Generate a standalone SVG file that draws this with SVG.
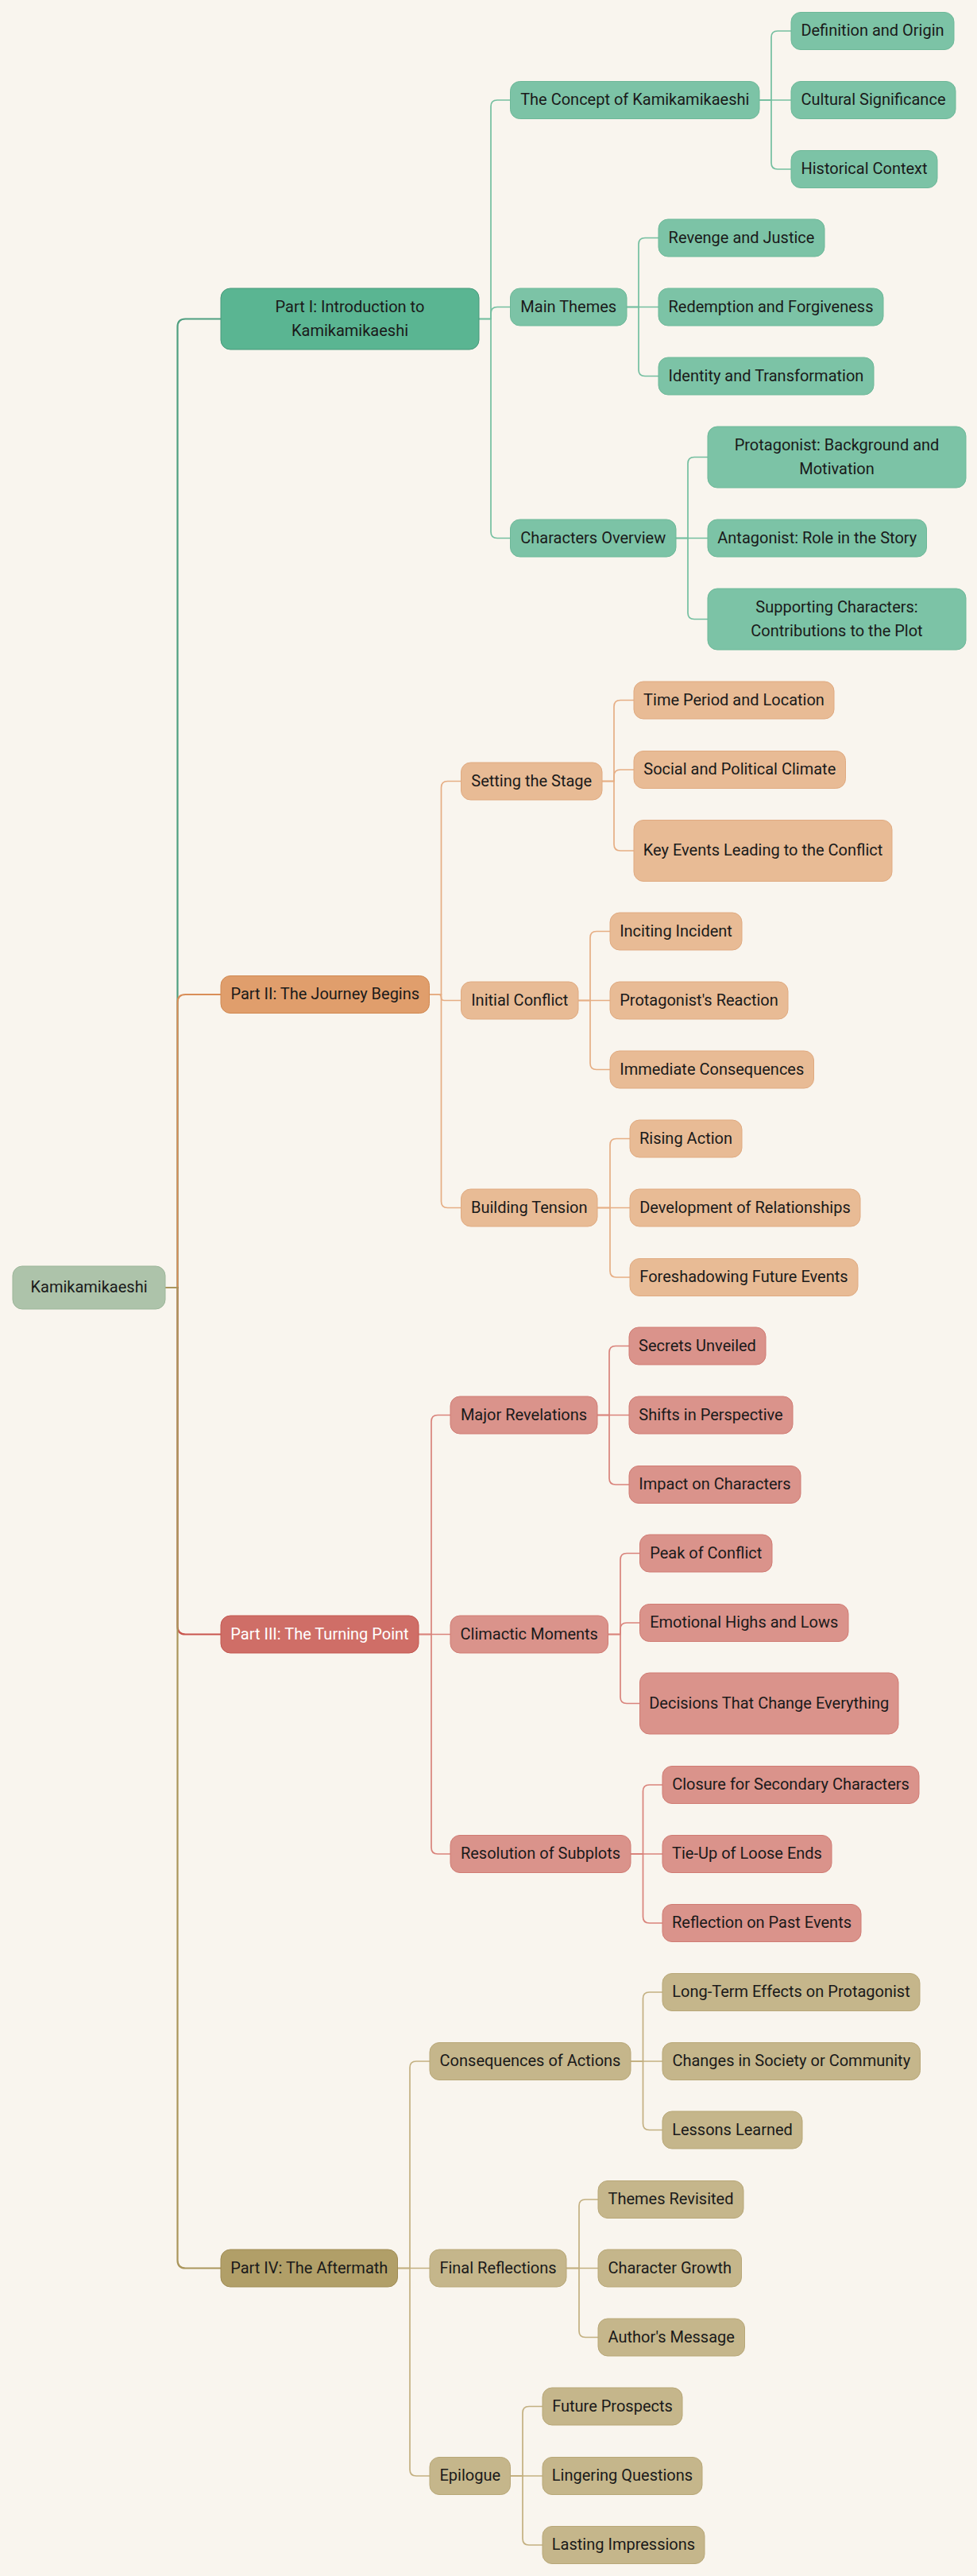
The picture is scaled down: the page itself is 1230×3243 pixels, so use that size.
<svg xmlns="http://www.w3.org/2000/svg" width="1230" height="3243" viewBox="0 0 1230 3243">
<style>
text{font-family:Roboto,"Liberation Sans",Arial,sans-serif;font-size:20px;fill:#1a1a1a;text-anchor:middle}
.c{fill:none;stroke-width:1.7}
.cr{fill:none;stroke-width:2.2}
.root rect{fill:#adc3aa;stroke:#9cb699;stroke-width:1}
.g1 rect{fill:#5ab592;stroke:#47997a;stroke-width:1}
.g2 rect{fill:#7cc3a6;stroke:#6db898;stroke-width:1}
.o1 rect{fill:#e09e6c;stroke:#d08850;stroke-width:1}
.o2 rect{fill:#e8bb95;stroke:#e0aa80;stroke-width:1}
.r1 rect{fill:#cf6e67;stroke:#c2564f;stroke-width:1}
.r1 text{fill:#ffffff}
.r2 rect{fill:#da938b;stroke:#d07b73;stroke-width:1}
.t1 rect{fill:#b19f68;stroke:#9f8b53;stroke-width:1}
.t2 rect{fill:#c5b68b;stroke:#b8a777;stroke-width:1}
.cg1{stroke:#4f9f80}.cg2{stroke:#74bfa0}
.co1{stroke:#d98e58}.co2{stroke:#e6ae84}
.cr1{stroke:#c9554d}.cr2{stroke:#d9837b}
.ct1{stroke:#aa965c}.ct2{stroke:#c3b081}
</style>
<rect x="0" y="0" width="1230" height="3243" fill="#f9f5ee"/>
<g id="connectors">
<path class="cr cg1" d="M208,1621 H223.5 V411.5 Q223.5,401.5 233.5,401.5 H278"/>
<path class="cr co1" d="M208,1621 H223.5 V1262 Q223.5,1252 233.5,1252 H278"/>
<path class="cr cr1" d="M208,1621 H223.5 V2047.5 Q223.5,2057.5 233.5,2057.5 H278"/>
<path class="cr ct1" d="M208,1621 H223.5 V2845.5 Q223.5,2855.5 233.5,2855.5 H278"/>

<path class="c cg2" d="M603,401.5 H618 V134 Q618,126 626,126 H642.5"/>
<path class="c cg2" d="M603,401.5 H618 V394.5 Q618,386.5 626,386.5 H642.5"/>
<path class="c cg2" d="M603,401.5 H618 V669.5 Q618,677.5 626,677.5 H642.5"/>
<path class="c cg2" d="M956,126 H971 V47 Q971,39 979,39 H996"/>
<path class="c cg2" d="M956,126 H996"/>
<path class="c cg2" d="M956,126 H971 V205 Q971,213 979,213 H996"/>
<path class="c cg2" d="M789,386.5 H804 V307.5 Q804,299.5 812,299.5 H829"/>
<path class="c cg2" d="M789,386.5 H829"/>
<path class="c cg2" d="M789,386.5 H804 V465.5 Q804,473.5 812,473.5 H829"/>
<path class="c cg2" d="M851,677.5 H866 V583.5 Q866,575.5 874,575.5 H891"/>
<path class="c cg2" d="M851,677.5 H891"/>
<path class="c cg2" d="M851,677.5 H866 V771.5 Q866,779.5 874,779.5 H891"/>

<path class="c co2" d="M540.5,1252 H555.5 V991.5 Q555.5,983.5 563.5,983.5 H580.5"/>
<path class="c co2" d="M540.5,1252 H551.75 Q555.5,1252 555.5,1255.75 Q555.5,1259.5 559.25,1259.5 H580.5"/>
<path class="c co2" d="M540.5,1252 H555.5 V1512.5 Q555.5,1520.5 563.5,1520.5 H580.5"/>
<path class="c co2" d="M758,983.5 H773 V889.5 Q773,881.5 781,881.5 H798"/>
<path class="c co2" d="M758,983.5 H773 V977 Q773,969 781,969 H798"/>
<path class="c co2" d="M758,983.5 H773 V1063 Q773,1071 781,1071 H798"/>
<path class="c co2" d="M728,1259.5 H743 V1180.5 Q743,1172.5 751,1172.5 H768"/>
<path class="c co2" d="M728,1259.5 H768"/>
<path class="c co2" d="M728,1259.5 H743 V1338.5 Q743,1346.5 751,1346.5 H768"/>
<path class="c co2" d="M752,1520.5 H768 V1441.5 Q768,1433.5 776,1433.5 H793"/>
<path class="c co2" d="M752,1520.5 H793"/>
<path class="c co2" d="M752,1520.5 H768 V1600 Q768,1608 776,1608 H793"/>

<path class="c cr2" d="M527,2057.5 H543 V1789.5 Q543,1781.5 551,1781.5 H567"/>
<path class="c cr2" d="M527,2057.5 H567"/>
<path class="c cr2" d="M527,2057.5 H543 V2326 Q543,2334 551,2334 H567"/>
<path class="c cr2" d="M752,1781.5 H767 V1702.5 Q767,1694.5 775,1694.5 H792"/>
<path class="c cr2" d="M752,1781.5 H792"/>
<path class="c cr2" d="M752,1781.5 H767 V1861 Q767,1869 775,1869 H792"/>
<path class="c cr2" d="M765.5,2057.5 H781 V1963.5 Q781,1955.5 789,1955.5 H805.5"/>
<path class="c cr2" d="M765.5,2057.5 H781 V2051 Q781,2043 789,2043 H805.5"/>
<path class="c cr2" d="M765.5,2057.5 H781 V2136.5 Q781,2144.5 789,2144.5 H805.5"/>
<path class="c cr2" d="M794,2334 H809.5 V2255 Q809.5,2247 817.5,2247 H834"/>
<path class="c cr2" d="M794,2334 H834"/>
<path class="c cr2" d="M794,2334 H809.5 V2413 Q809.5,2421 817.5,2421 H834"/>

<path class="c ct2" d="M500.5,2855.5 H516 V2603 Q516,2595 524,2595 H541"/>
<path class="c ct2" d="M500.5,2855.5 H541"/>
<path class="c ct2" d="M500.5,2855.5 H516 V3109 Q516,3117 524,3117 H541"/>
<path class="c ct2" d="M794,2595 H809.5 V2516 Q809.5,2508 817.5,2508 H834"/>
<path class="c ct2" d="M794,2595 H834"/>
<path class="c ct2" d="M794,2595 H809.5 V2673.5 Q809.5,2681.5 817.5,2681.5 H834"/>
<path class="c ct2" d="M713,2855.5 H729 V2777 Q729,2769 737,2769 H753"/>
<path class="c ct2" d="M713,2855.5 H753"/>
<path class="c ct2" d="M713,2855.5 H729 V2934.5 Q729,2942.5 737,2942.5 H753"/>
<path class="c ct2" d="M642.5,3117 H658 V3037.5 Q658,3029.5 666,3029.5 H683"/>
<path class="c ct2" d="M642.5,3117 H683"/>
<path class="c ct2" d="M642.5,3117 H658 V3196 Q658,3204 666,3204 H683"/>
</g>

<g id="root" class="root"><rect x="16" y="1594" width="192" height="54" rx="12"/><text x="112" y="1627">Kamikamikaeshi</text></g>

<g id="part1" class="g1"><rect x="278" y="363" width="325" height="77" rx="12"/><text x="440.5" y="392.5">Part I: Introduction to</text><text x="440.5" y="422.5">Kamikamikaeshi</text></g>
<g id="concept" class="g2"><rect x="642.5" y="102.5" width="313.5" height="47" rx="12"/><text x="799.25" y="132">The Concept of Kamikamikaeshi</text></g>
<g id="definition" class="g2"><rect x="996" y="15.5" width="205" height="47" rx="12"/><text x="1098.5" y="45">Definition and Origin</text></g>
<g id="cultural" class="g2"><rect x="996" y="102.5" width="207" height="47" rx="12"/><text x="1099.5" y="132">Cultural Significance</text></g>
<g id="historical" class="g2"><rect x="996" y="189.5" width="184" height="47" rx="12"/><text x="1088" y="219">Historical Context</text></g>
<g id="themes" class="g2"><rect x="642.5" y="363" width="146.5" height="47" rx="12"/><text x="715.75" y="392.5">Main Themes</text></g>
<g id="revenge" class="g2"><rect x="829" y="276" width="209" height="47" rx="12"/><text x="933.5" y="305.5">Revenge and Justice</text></g>
<g id="redemption" class="g2"><rect x="829" y="363" width="283" height="47" rx="12"/><text x="970.5" y="392.5">Redemption and Forgiveness</text></g>
<g id="identity" class="g2"><rect x="829" y="450" width="271" height="47" rx="12"/><text x="964.5" y="479.5">Identity and Transformation</text></g>
<g id="characters" class="g2"><rect x="642.5" y="654" width="208.5" height="47" rx="12"/><text x="746.75" y="683.5">Characters Overview</text></g>
<g id="protagonist" class="g2"><rect x="891" y="537" width="325" height="77" rx="12"/><text x="1053.5" y="566.5">Protagonist: Background and</text><text x="1053.5" y="596.5">Motivation</text></g>
<g id="antagonist" class="g2"><rect x="891" y="654" width="275.5" height="47" rx="12"/><text x="1028.75" y="683.5">Antagonist: Role in the Story</text></g>
<g id="supporting" class="g2"><rect x="891" y="741" width="325" height="77" rx="12"/><text x="1053.5" y="770.5">Supporting Characters:</text><text x="1053.5" y="800.5">Contributions to the Plot</text></g>

<g id="part2" class="o1"><rect x="278" y="1228.5" width="262.5" height="47" rx="12"/><text x="409.25" y="1258">Part II: The Journey Begins</text></g>
<g id="setting" class="o2"><rect x="580.5" y="960" width="177.5" height="47" rx="12"/><text x="669.25" y="989.5">Setting the Stage</text></g>
<g id="time" class="o2"><rect x="798" y="858" width="252" height="47" rx="12"/><text x="924" y="887.5">Time Period and Location</text></g>
<g id="social" class="o2"><rect x="798" y="945.5" width="266.5" height="47" rx="12"/><text x="931.25" y="975">Social and Political Climate</text></g>
<g id="keyevents" class="o2"><rect x="798" y="1032.5" width="325" height="77" rx="12"/><text x="960.5" y="1077">Key Events Leading to the Conflict</text></g>
<g id="initial" class="o2"><rect x="580.5" y="1236" width="147.5" height="47" rx="12"/><text x="654.25" y="1265.5">Initial Conflict</text></g>
<g id="inciting" class="o2"><rect x="768" y="1149" width="166" height="47" rx="12"/><text x="851" y="1178.5">Inciting Incident</text></g>
<g id="reaction" class="o2"><rect x="768" y="1236" width="224" height="47" rx="12"/><text x="880" y="1265.5">Protagonist's Reaction</text></g>
<g id="immediate" class="o2"><rect x="768" y="1323" width="256.5" height="47" rx="12"/><text x="896.25" y="1352.5">Immediate Consequences</text></g>
<g id="building" class="o2"><rect x="580.5" y="1497" width="171.5" height="47" rx="12"/><text x="666.25" y="1526.5">Building Tension</text></g>
<g id="rising" class="o2"><rect x="793" y="1410" width="141" height="47" rx="12"/><text x="863.5" y="1439.5">Rising Action</text></g>
<g id="development" class="o2"><rect x="793" y="1497" width="290" height="47" rx="12"/><text x="938" y="1526.5">Development of Relationships</text></g>
<g id="foreshadowing" class="o2"><rect x="793" y="1584.5" width="287" height="47" rx="12"/><text x="936.5" y="1614">Foreshadowing Future Events</text></g>

<g id="part3" class="r1"><rect x="278" y="2034" width="249" height="47" rx="12"/><text x="402.5" y="2063.5">Part III: The Turning Point</text></g>
<g id="revelations" class="r2"><rect x="567" y="1758" width="185" height="47" rx="12"/><text x="659.5" y="1787.5">Major Revelations</text></g>
<g id="secrets" class="r2"><rect x="792" y="1671" width="172" height="47" rx="12"/><text x="878" y="1700.5">Secrets Unveiled</text></g>
<g id="shifts" class="r2"><rect x="792" y="1758" width="206" height="47" rx="12"/><text x="895" y="1787.5">Shifts in Perspective</text></g>
<g id="impact" class="r2"><rect x="792" y="1845.5" width="216" height="47" rx="12"/><text x="900" y="1875">Impact on Characters</text></g>
<g id="climactic" class="r2"><rect x="567" y="2034" width="198.5" height="47" rx="12"/><text x="666.25" y="2063.5">Climactic Moments</text></g>
<g id="peak" class="r2"><rect x="805.5" y="1932" width="166.5" height="47" rx="12"/><text x="888.75" y="1961.5">Peak of Conflict</text></g>
<g id="emotional" class="r2"><rect x="805.5" y="2019.5" width="262.5" height="47" rx="12"/><text x="936.75" y="2049">Emotional Highs and Lows</text></g>
<g id="decisions" class="r2"><rect x="805.5" y="2106" width="325.5" height="77" rx="12"/><text x="968.25" y="2150.5">Decisions That Change Everything</text></g>
<g id="resolution" class="r2"><rect x="567" y="2310.5" width="227" height="47" rx="12"/><text x="680.5" y="2340">Resolution of Subplots</text></g>
<g id="closure" class="r2"><rect x="834" y="2223.5" width="323" height="47" rx="12"/><text x="995.5" y="2253">Closure for Secondary Characters</text></g>
<g id="tieup" class="r2"><rect x="834" y="2310.5" width="213" height="47" rx="12"/><text x="940.5" y="2340">Tie-Up of Loose Ends</text></g>
<g id="reflection" class="r2"><rect x="834" y="2397.5" width="250" height="47" rx="12"/><text x="959" y="2427">Reflection on Past Events</text></g>

<g id="part4" class="t1"><rect x="278" y="2832" width="222.5" height="47" rx="12"/><text x="389.25" y="2861.5">Part IV: The Aftermath</text></g>
<g id="consequences" class="t2"><rect x="541" y="2571.5" width="253" height="47" rx="12"/><text x="667.5" y="2601">Consequences of Actions</text></g>
<g id="longterm" class="t2"><rect x="834" y="2484.5" width="324" height="47" rx="12"/><text x="996" y="2514">Long-Term Effects on Protagonist</text></g>
<g id="changes" class="t2"><rect x="834" y="2571.5" width="324.5" height="47" rx="12"/><text x="996.25" y="2601">Changes in Society or Community</text></g>
<g id="lessons" class="t2"><rect x="834" y="2658" width="176" height="47" rx="12"/><text x="922" y="2687.5">Lessons Learned</text></g>
<g id="final" class="t2"><rect x="541" y="2832" width="172" height="47" rx="12"/><text x="627" y="2861.5">Final Reflections</text></g>
<g id="themesrev" class="t2"><rect x="753" y="2745.5" width="183" height="47" rx="12"/><text x="844.5" y="2775">Themes Revisited</text></g>
<g id="growth" class="t2"><rect x="753" y="2832" width="180.5" height="47" rx="12"/><text x="843.25" y="2861.5">Character Growth</text></g>
<g id="author" class="t2"><rect x="753" y="2919" width="184.5" height="47" rx="12"/><text x="845.25" y="2948.5">Author's Message</text></g>
<g id="epilogue" class="t2"><rect x="541" y="3093.5" width="101.5" height="47" rx="12"/><text x="591.75" y="3123">Epilogue</text></g>
<g id="future" class="t2"><rect x="683" y="3006" width="176" height="47" rx="12"/><text x="771" y="3035.5">Future Prospects</text></g>
<g id="lingering" class="t2"><rect x="683" y="3093.5" width="201" height="47" rx="12"/><text x="783.5" y="3123">Lingering Questions</text></g>
<g id="lasting" class="t2"><rect x="683" y="3180.5" width="204" height="47" rx="12"/><text x="785" y="3210">Lasting Impressions</text></g>
</svg>
